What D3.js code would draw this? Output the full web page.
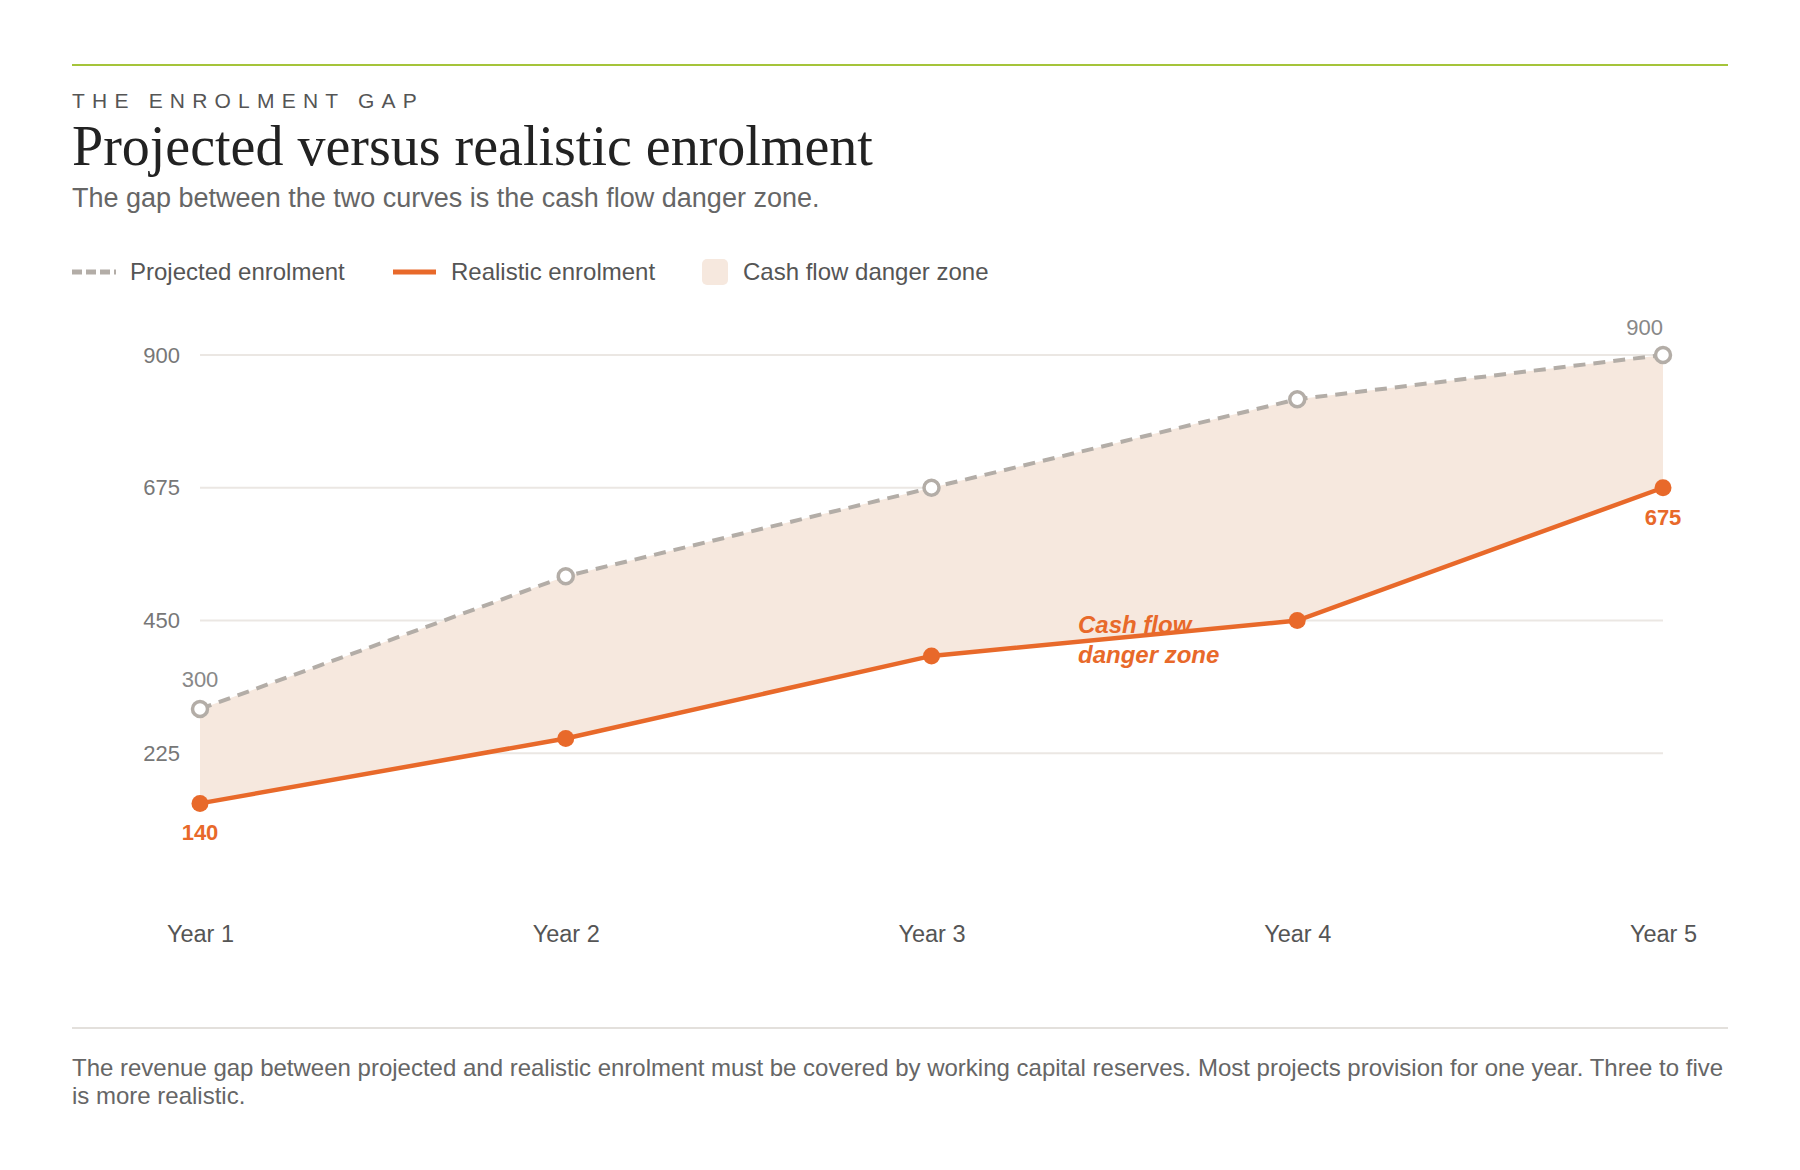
<!DOCTYPE html>
<html>
<head>
<meta charset="utf-8">
<script src="https://cdn.jsdelivr.net/npm/d3@7"></script>
<style>
  html, body { margin: 0; padding: 0; background: #fff; }
  svg { display: block; }
</style>
</head>
<body>
<svg id="chart" width="1800" height="1170" font-family="'Liberation Sans', Arial, sans-serif"></svg>
<script>
// ------------------
// Data
// ------------------
const years = ["Year 1", "Year 2", "Year 3", "Year 4", "Year 5"];
const projected = [300, 525, 675, 825, 900];
const realistic = [140, 250, 390, 450, 675];
const yTicks = [225, 450, 675, 900];

const ORANGE = "#e8692a";
const GREY = "#b3ada7";
const ZONE = "#f6e8de";

const svg = d3.select("#chart");
const left = 72, right = 1728;

// ------------------
// Header
// ------------------
svg.append("line")
  .attr("x1", left).attr("x2", right).attr("y1", 65).attr("y2", 65)
  .attr("stroke", "#a5c43a").attr("stroke-width", 2);

svg.append("text")
  .attr("x", left).attr("y", 108)
  .attr("font-size", 21).attr("letter-spacing", "7.2px")
  .attr("fill", "#555")
  .text("THE ENROLMENT GAP");

svg.append("text")
  .attr("x", left).attr("y", 165)
  .attr("font-family", "'Liberation Serif', 'DejaVu Serif', serif")
  .attr("font-size", 56).attr("fill", "#222")
  .text("Projected versus realistic enrolment");

svg.append("text")
  .attr("x", left).attr("y", 207)
  .attr("font-size", 27).attr("fill", "#666")
  .text("The gap between the two curves is the cash flow danger zone.");

// ------------------
// Legend
// ------------------
const lg = svg.append("g").attr("transform", "translate(0,272)");
lg.append("line").attr("x1", 72).attr("x2", 116).attr("y1", 0).attr("y2", 0)
  .attr("stroke", GREY).attr("stroke-width", 5).attr("stroke-dasharray", "10,4");
lg.append("text").attr("x", 130).attr("y", 8).attr("font-size", 24).attr("fill", "#555")
  .text("Projected enrolment");
lg.append("line").attr("x1", 393).attr("x2", 436).attr("y1", 0).attr("y2", 0)
  .attr("stroke", ORANGE).attr("stroke-width", 5);
lg.append("text").attr("x", 451).attr("y", 8).attr("font-size", 24).attr("fill", "#555")
  .text("Realistic enrolment");
lg.append("rect").attr("x", 702).attr("y", -13).attr("width", 26).attr("height", 26)
  .attr("rx", 5).attr("fill", ZONE);
lg.append("text").attr("x", 743).attr("y", 8).attr("font-size", 24).attr("fill", "#555")
  .text("Cash flow danger zone");

// ------------------
// Scales
// ------------------
const x = d3.scalePoint().domain(years).range([200, 1663]);
const y = d3.scaleLinear().domain([0, 900]).range([886, 355]);

const g = svg.append("g");

// gridlines + y labels
const yAxis = d3.axisLeft(y).tickValues(yTicks).tickSize(0).tickPadding(20);
g.append("g")
  .attr("transform", "translate(200,0)")
  .call(yAxis)
  .call(a => a.select(".domain").remove())
  .call(a => a.selectAll("text")
    .attr("font-family", "'Liberation Sans', Arial, sans-serif")
    .attr("font-size", 22).attr("fill", "#777"));

g.append("g").selectAll("line")
  .data(yTicks)
  .join("line")
  .attr("x1", 200).attr("x2", 1663)
  .attr("y1", d => y(d)).attr("y2", d => y(d))
  .attr("stroke", "#ebe7e3").attr("stroke-width", 2);

// x labels
const xAxis = d3.axisBottom(x).tickSize(0).tickPadding(0);
g.append("g")
  .attr("transform", "translate(0,942)")
  .call(xAxis)
  .call(a => a.select(".domain").remove())
  .call(a => a.selectAll("text")
    .attr("font-family", "'Liberation Sans', Arial, sans-serif")
    .attr("font-size", 23.5).attr("fill", "#555").attr("dy", 0));

// ------------------
// Danger zone area
// ------------------
const rows = years.map((yr, i) => ({ yr, p: projected[i], r: realistic[i] }));

g.append("path")
  .datum(rows)
  .attr("fill", ZONE)
  .attr("d", d3.area().x(d => x(d.yr)).y0(d => y(d.r)).y1(d => y(d.p)));

// projected line
g.append("path")
  .datum(rows)
  .attr("fill", "none").attr("stroke", GREY).attr("stroke-width", 4)
  .attr("stroke-dasharray", "12,8")
  .attr("d", d3.line().x(d => x(d.yr)).y(d => y(d.p)));

// realistic line
g.append("path")
  .datum(rows)
  .attr("fill", "none").attr("stroke", ORANGE).attr("stroke-width", 4.5)
  .attr("d", d3.line().x(d => x(d.yr)).y(d => y(d.r)));

g.append("g").selectAll("circle")
  .data(rows)
  .join("circle")
  .attr("cx", d => x(d.yr)).attr("cy", d => y(d.p)).attr("r", 7.5)
  .attr("fill", "#fff").attr("stroke", GREY).attr("stroke-width", 3.5);

g.append("g").selectAll("circle")
  .data(rows)
  .join("circle")
  .attr("cx", d => x(d.yr)).attr("cy", d => y(d.r)).attr("r", 8.5)
  .attr("fill", ORANGE);

// ------------------
// Annotations
// ------------------
const first = rows[0], last = rows[rows.length - 1];

g.append("text")
  .attr("x", x(first.yr)).attr("y", y(first.p) - 22)
  .attr("text-anchor", "middle").attr("font-size", 22).attr("fill", "#888")
  .text(first.p);
g.append("text")
  .attr("x", x(last.yr)).attr("y", y(last.p) - 20)
  .attr("text-anchor", "end").attr("font-size", 22).attr("fill", "#888")
  .text(last.p);

g.append("text")
  .attr("x", x(first.yr)).attr("y", y(first.r) + 37)
  .attr("text-anchor", "middle").attr("font-size", 22).attr("font-weight", "bold")
  .attr("fill", ORANGE)
  .text(first.r);
g.append("text")
  .attr("x", x(last.yr)).attr("y", y(last.r) + 37)
  .attr("text-anchor", "middle").attr("font-size", 22).attr("font-weight", "bold")
  .attr("fill", ORANGE)
  .text(last.r);

const note = g.append("text")
  .attr("font-size", 24).attr("font-weight", "bold").attr("font-style", "italic")
  .attr("fill", ORANGE);
note.append("tspan").attr("x", 1078).attr("y", 633).text("Cash flow");
note.append("tspan").attr("x", 1078).attr("y", 663).text("danger zone");

// ------------------
// Footer
// ------------------
svg.append("line")
  .attr("x1", left).attr("x2", right).attr("y1", 1028).attr("y2", 1028)
  .attr("stroke", "#e3e0dc").attr("stroke-width", 2);

const foot = svg.append("text").attr("font-size", 24).attr("fill", "#666");
foot.append("tspan").attr("x", left).attr("y", 1076)
  .text("The revenue gap between projected and realistic enrolment must be covered by working capital reserves. Most projects provision for one year. Three to five");
foot.append("tspan").attr("x", left).attr("y", 1104)
  .text("is more realistic.");
</script>
</body>
</html>
